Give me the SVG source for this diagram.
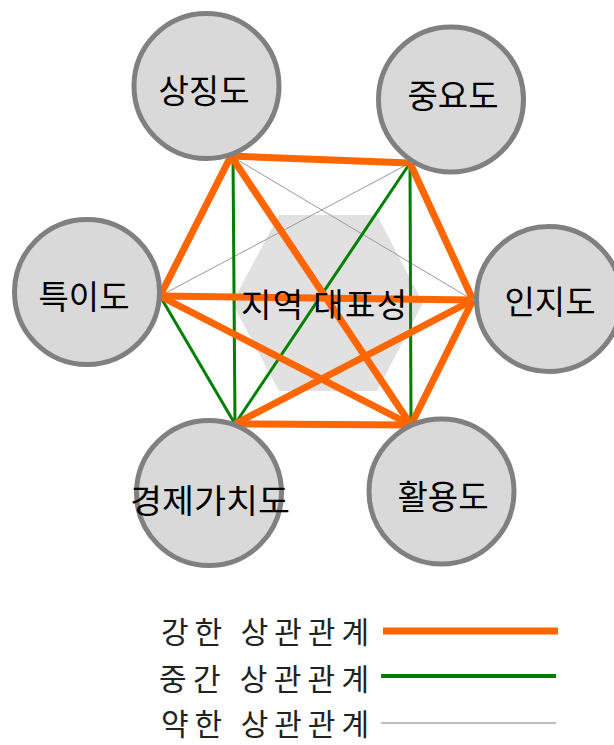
<svg xmlns="http://www.w3.org/2000/svg" width="614" height="745" viewBox="0 0 614 745">
<style>
.node circle{fill:#d9d9d9;stroke:#808080;stroke-width:5}
.lbl{font-family:"Noto Sans CJK KR","Noto Sans",sans-serif;font-size:33px;fill:#000;text-anchor:middle}
.leg{font-family:"Noto Sans CJK KR","Noto Sans",sans-serif;font-size:30px;fill:#222}
.strong{stroke:#ff6600;stroke-width:7;fill:none}
.mid{stroke:#008000;stroke-width:3;fill:none}
.weak{stroke:#999;stroke-width:1;fill:none}
</style>
<rect width="614" height="745" fill="#fff"/>
<g id="center-bg">
<polygon points="232,303 279,215 377,215 423,303 377,391 279,391" fill="#e1e1e1"/>
</g>
<g id="connectors">
<line class="weak" x1="231" y1="156" x2="473" y2="300"/>
<line class="weak" x1="410" y1="163" x2="160" y2="296"/>
<line class="mid" x1="233" y1="156" x2="235" y2="424"/>
<line class="mid" x1="410" y1="163" x2="235" y2="424"/>
<line class="mid" x1="410" y1="163" x2="411" y2="425"/>
<line class="mid" x1="160" y1="296" x2="235" y2="424"/>
<line class="strong" x1="231" y1="156" x2="410" y2="163"/>
<line class="strong" x1="231" y1="156" x2="160" y2="296"/>
<line class="strong" x1="231" y1="156" x2="411" y2="425"/>
<line class="strong" x1="410" y1="163" x2="473" y2="300"/>
<line class="strong" x1="160" y1="296" x2="473" y2="300"/>
<line class="strong" x1="160" y1="296" x2="411" y2="425"/>
<line class="strong" x1="473" y1="300" x2="235" y2="424"/>
<line class="strong" x1="473" y1="300" x2="411" y2="425"/>
<line class="strong" x1="235" y1="424" x2="411" y2="425"/>
</g>
<g id="center-label">
<text class="lbl" x="324" y="317" textLength="166" lengthAdjust="spacing">지역 대표성</text>
</g>
<g id="node-symbol" class="node">
<circle cx="206.5" cy="86" r="72.5"/>
<text class="lbl" x="204" y="103">상징도</text>
</g>
<g id="node-importance" class="node">
<circle cx="451" cy="99.5" r="72.5"/>
<text class="lbl" x="453" y="108">중요도</text>
</g>
<g id="node-uniqueness" class="node">
<circle cx="87" cy="292" r="72.5"/>
<text class="lbl" x="84" y="309">특이도</text>
</g>
<g id="node-awareness" class="node">
<circle cx="549" cy="299" r="72.5"/>
<text class="lbl" x="550" y="314">인지도</text>
</g>
<g id="node-economic" class="node">
<circle cx="209" cy="493" r="72.5"/>
<text class="lbl" x="210" y="513" textLength="160" lengthAdjust="spacingAndGlyphs">경제가치도</text>
</g>
<g id="node-usage" class="node">
<circle cx="441.5" cy="491.5" r="72.5"/>
<text class="lbl" x="443" y="509">활용도</text>
</g>
<g id="legend">
<text class="leg" x="161" y="643" textLength="208" lengthAdjust="spacing">강한 상관관계</text>
<line class="strong" x1="383" y1="631" x2="558" y2="631"/>
<text class="leg" x="159" y="690" textLength="210" lengthAdjust="spacing">중간 상관관계</text>
<line class="mid" x1="381" y1="676" x2="556" y2="676" style="stroke-width:4"/>
<text class="leg" x="161" y="735" textLength="208" lengthAdjust="spacing">약한 상관관계</text>
<line class="weak" x1="381" y1="723" x2="556" y2="723" style="stroke:#aaa;stroke-width:1.5"/>
</g>
</svg>
